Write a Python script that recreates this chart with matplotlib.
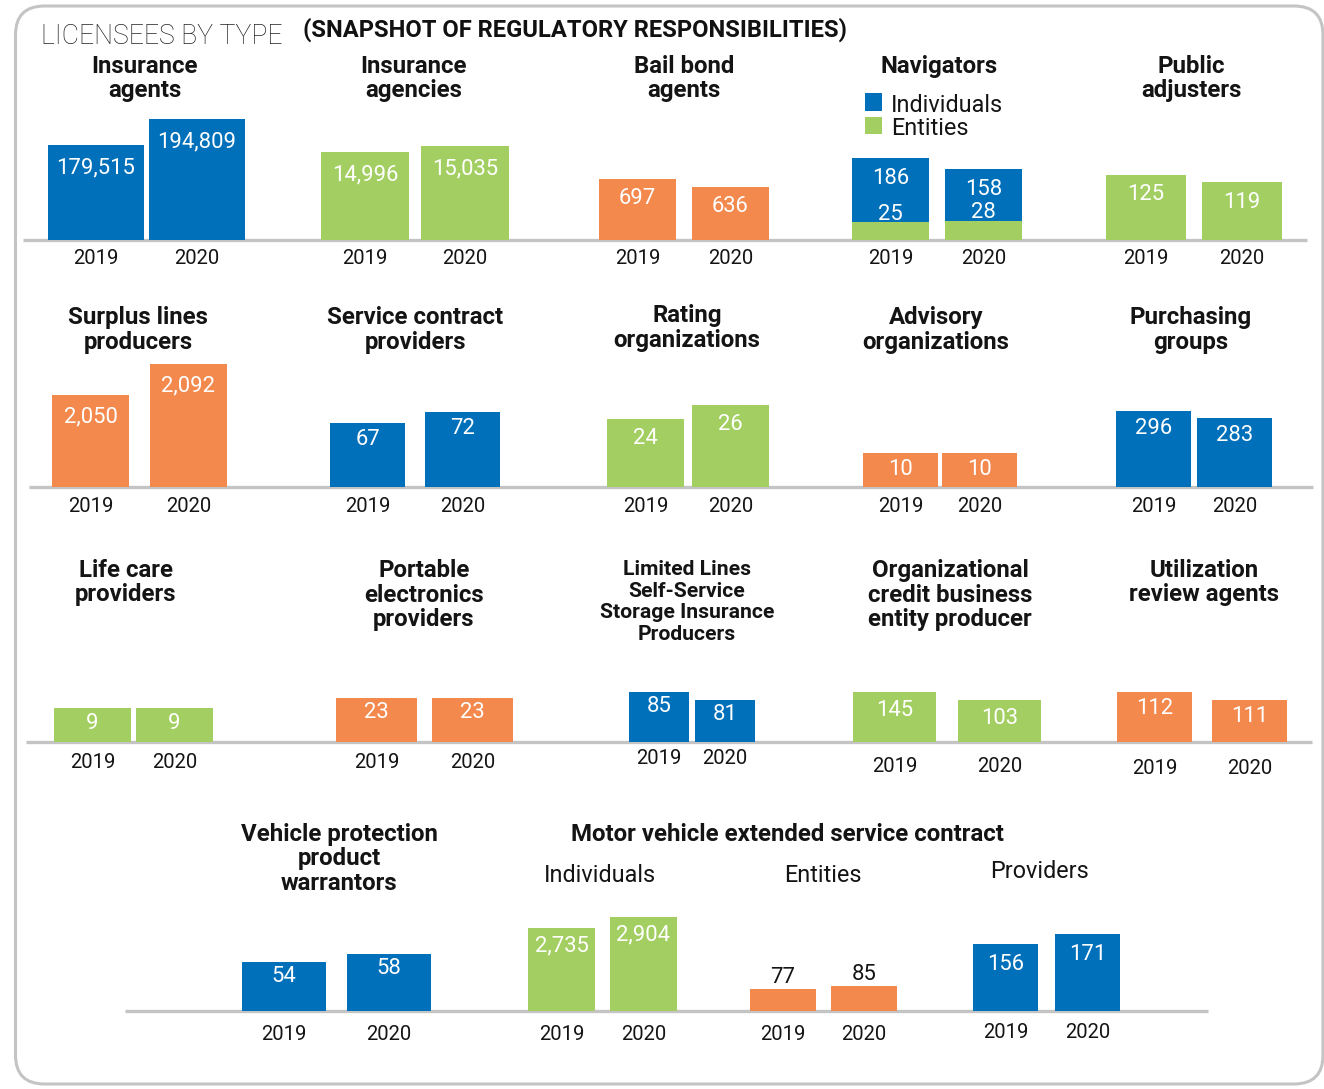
import matplotlib
matplotlib.use("Agg")
import matplotlib.pyplot as plt
from matplotlib.patches import FancyBboxPatch, Rectangle
import numpy as np

# ---------------- data ----------------
years = ["2019", "2020"]

insurance_agents = [179515, 194809]
insurance_agencies = [14996, 15035]
bail_bond_agents = [697, 636]
navigators_individuals = [186, 158]
navigators_entities = [25, 28]
public_adjusters = [125, 119]
surplus_lines_producers = [2050, 2092]
service_contract_providers = [67, 72]
rating_organizations = [24, 26]
advisory_organizations = [10, 10]
purchasing_groups = [296, 283]
life_care_providers = [9, 9]
portable_electronics_providers = [23, 23]
limited_lines_storage = [85, 81]
org_credit_business = [145, 103]
utilization_review_agents = [112, 111]
vehicle_protection_warrantors = [54, 58]
mvesc_individuals = [2735, 2904]
mvesc_entities = [77, 85]
mvesc_providers = [156, 171]

# ---------------- style ----------------
W, H = 1324, 1089
BLUE = "#0070BA"
GREEN = "#A3CF62"
ORANGE = "#F4894E"
GRID = "#C4C4C4"
TXT = "#141414"
FAM = ["Roboto", "DejaVu Sans"]
BOLD = dict(family=FAM, weight="bold")
REG = dict(family=FAM, weight="normal")
LIGHT = dict(family=FAM, weight="light")
TSIZE = 17.3

fig = plt.figure(figsize=(W / 100, H / 100), dpi=100)
fig.patch.set_facecolor("white")

bg = fig.add_axes([0, 0, 1, 1], zorder=-1)
bg.set_xlim(0, W)
bg.set_ylim(H, 0)
bg.axis("off")

# frame
bg.add_patch(FancyBboxPatch((15.5, 6), 1307.5, 1078,
                            boxstyle="round,pad=0,rounding_size=29",
                            ec=GRID, fc="none", lw=2.2))

# main headings
bg.text(41, 43.5, "LICENSEES BY TYPE", fontsize=19.2, color="#222222",
        ha="left", va="baseline", **LIGHT)
bg.text(303, 36.7, "(SNAPSHOT OF REGULATORY RESPONSIBILITIES)", fontsize=17.1,
        color="#111111", ha="left", va="baseline", **BOLD)

# row baselines
for x0, x1, y in [(23, 1307, 240), (29, 1313, 487), (26, 1312, 742), (125, 1208, 1011)]:
    bg.plot([x0, x1], [y, y], color=GRID, lw=2.4, solid_capstyle="butt")

AX_H = 130

def title_lines(text, cx, y0, size=TSIZE, gap=24.5):
    for i, line in enumerate(text.split("\n")):
        bg.text(cx, y0 + i * gap, line, fontsize=size, color=TXT,
                ha="center", va="baseline", **BOLD)

def panel(vals, color, L, R, B, w, ylim, dy=18, ydy=20, inside=True,
          overlay=None, overlay_color=None, lab_dy_overlay=8):
    ax = fig.add_axes([L / W, 1 - B / H, (R - L) / W, AX_H / H])
    ax.axis("off")
    lo, hi = ylim
    x = np.arange(len(years))
    v = np.asarray(vals, dtype=float)
    ax.bar(x, v - lo, bottom=lo, width=w, color=color, linewidth=0)
    if overlay is not None:
        ov = np.asarray(overlay, dtype=float)
        ax.bar(x, ov - lo, bottom=lo, width=w, color=overlay_color, linewidth=0)
    ax.set_xlim(-w / 2, len(years) - 1 + w / 2)
    ax.set_ylim(lo, hi)
    for i, val in enumerate(vals):
        if inside:
            ax.annotate(f"{val:,}", xy=(i, val), xytext=(0, -dy), textcoords="offset pixels",
                        ha="center", va="center", color="white", fontsize=15.8,
                        annotation_clip=False, **REG)
        else:
            ax.annotate(f"{val:,}", xy=(i, val), xytext=(0, dy), textcoords="offset pixels",
                        ha="center", va="center", color=TXT, fontsize=15.8,
                        annotation_clip=False, **REG)
        ax.annotate(years[i], xy=(i, lo), xytext=(0, -ydy), textcoords="offset pixels",
                    ha="center", va="center", color=TXT, fontsize=14.6,
                    annotation_clip=False, **REG)
    if overlay is not None:
        for i, val in enumerate(overlay):
            ax.annotate(f"{val:,}", xy=(i, val), xytext=(0, lab_dy_overlay),
                        textcoords="offset pixels", ha="center", va="center",
                        color="white", fontsize=15.8, annotation_clip=False, **REG)
    return ax

# ---------- row 1 ----------
title_lines("Insurance\nagents", 144.5, 73)
panel(insurance_agents, BLUE, 48, 245, 240, 0.95, (123600, 200100), dy=23, ydy=18)

title_lines("Insurance\nagencies", 413.5, 73)
panel(insurance_agencies, GREEN, 321, 509, 240, 0.88, (14424, 15269), dy=23, ydy=18)

title_lines("Bail bond\nagents", 684, 73)
panel(bail_bond_agents, ORANGE, 599, 769, 240, 0.83, (232, 1223), dy=19, ydy=18)

title_lines("Navigators", 939, 73)
panel(navigators_individuals, BLUE, 852, 1022, 240, 0.83, (-20, 305), dy=21, ydy=18,
      overlay=navigators_entities, overlay_color=GREEN, lab_dy_overlay=8)
bg.add_patch(Rectangle((865, 93), 17, 18, color=BLUE, lw=0))
bg.add_patch(Rectangle((865, 117), 17, 17, color=GREEN, lw=0))
bg.text(891, 112, "Individuals", fontsize=16.8, color=TXT, ha="left", va="baseline", **REG)
bg.text(891, 135, "Entities", fontsize=16.8, color=TXT, ha="left", va="baseline", **REG)

title_lines("Public\nadjusters", 1191, 73)
panel(public_adjusters, GREEN, 1106, 1282, 240, 0.83, (69.3, 180.7), dy=20, ydy=18)

# ---------- row 2 ----------
title_lines("Surplus lines\nproducers", 138, 324)
panel(surplus_lines_producers, ORANGE, 52, 227, 487, 0.79, (1925, 2101), dy=22, ydy=20)

title_lines("Service contract\nproviders", 415.5, 324)
panel(service_contract_providers, BLUE, 330, 500, 487, 0.79, (37.9, 97), dy=17, ydy=20)

title_lines("Rating\norganizations", 687, 322)
panel(rating_organizations, GREEN, 607, 769, 487, 0.91, (14.29, 32.86), dy=19, ydy=19)

title_lines("Advisory\norganizations", 936, 324)
panel(advisory_organizations, ORANGE, 863, 1017, 487, 0.95, (0, 38.2), dy=17, ydy=20)

title_lines("Purchasing\ngroups", 1191, 324)
panel(purchasing_groups, BLUE, 1116, 1272, 487, 0.93, (155, 396.4), dy=17, ydy=20)

# ---------- row 3 ----------
title_lines("Life care\nproviders", 126, 577)
panel(life_care_providers, GREEN, 54, 213, 742, 0.94, (0, 34.9), dy=15, ydy=21)

title_lines("Portable\nelectronics\nproviders", 424, 577)
panel(portable_electronics_providers, ORANGE, 336, 513, 742, 0.84, (0, 67.2), dy=15, ydy=21)

title_lines("Limited Lines\nSelf-Service\nStorage Insurance\nProducers", 687, 575, size=15.2, gap=21.7)
panel(limited_lines_storage, BLUE, 629, 755, 742, 0.91, (60, 125), dy=15, ydy=17)

title_lines("Organizational\ncredit business\nentity producer", 950, 577)
panel(org_credit_business, GREEN, 853, 1041, 742, 0.79, (-117.5, 565), dy=18, ydy=24)

title_lines("Utilization\nreview agents", 1204, 577)
panel(utilization_review_agents, ORANGE, 1117, 1287, 742, 0.79, (105.75, 122), dy=17, ydy=26)

# ---------- row 4 ----------
title_lines("Vehicle protection\nproduct\nwarrantors", 339, 841)
panel(vehicle_protection_warrantors, BLUE, 242, 431, 1011, 0.80, (29.5, 94.5), dy=15, ydy=23)

bg.text(571, 841, "Motor vehicle extended service contract", fontsize=TSIZE, color=TXT,
        ha="left", va="baseline", **BOLD)
bg.text(600, 882, "Individuals", fontsize=16.8, color=TXT, ha="center", va="baseline", **REG)
bg.text(823, 882, "Entities", fontsize=16.8, color=TXT, ha="center", va="baseline", **REG)
bg.text(1040, 878, "Providers", fontsize=16.8, color=TXT, ha="center", va="baseline", **REG)

panel(mvesc_individuals, GREEN, 528, 677, 1011, 0.82, (1460, 3457), dy=18, ydy=24)
panel(mvesc_entities, ORANGE, 750, 897, 1011, 0.81, (18.3, 365), dy=11, ydy=24, inside=False)
panel(mvesc_providers, BLUE, 973, 1120, 1011, 0.79, (55.5, 250.5), dy=20, ydy=22)

fig.savefig("out.png", dpi=100, facecolor="white")
